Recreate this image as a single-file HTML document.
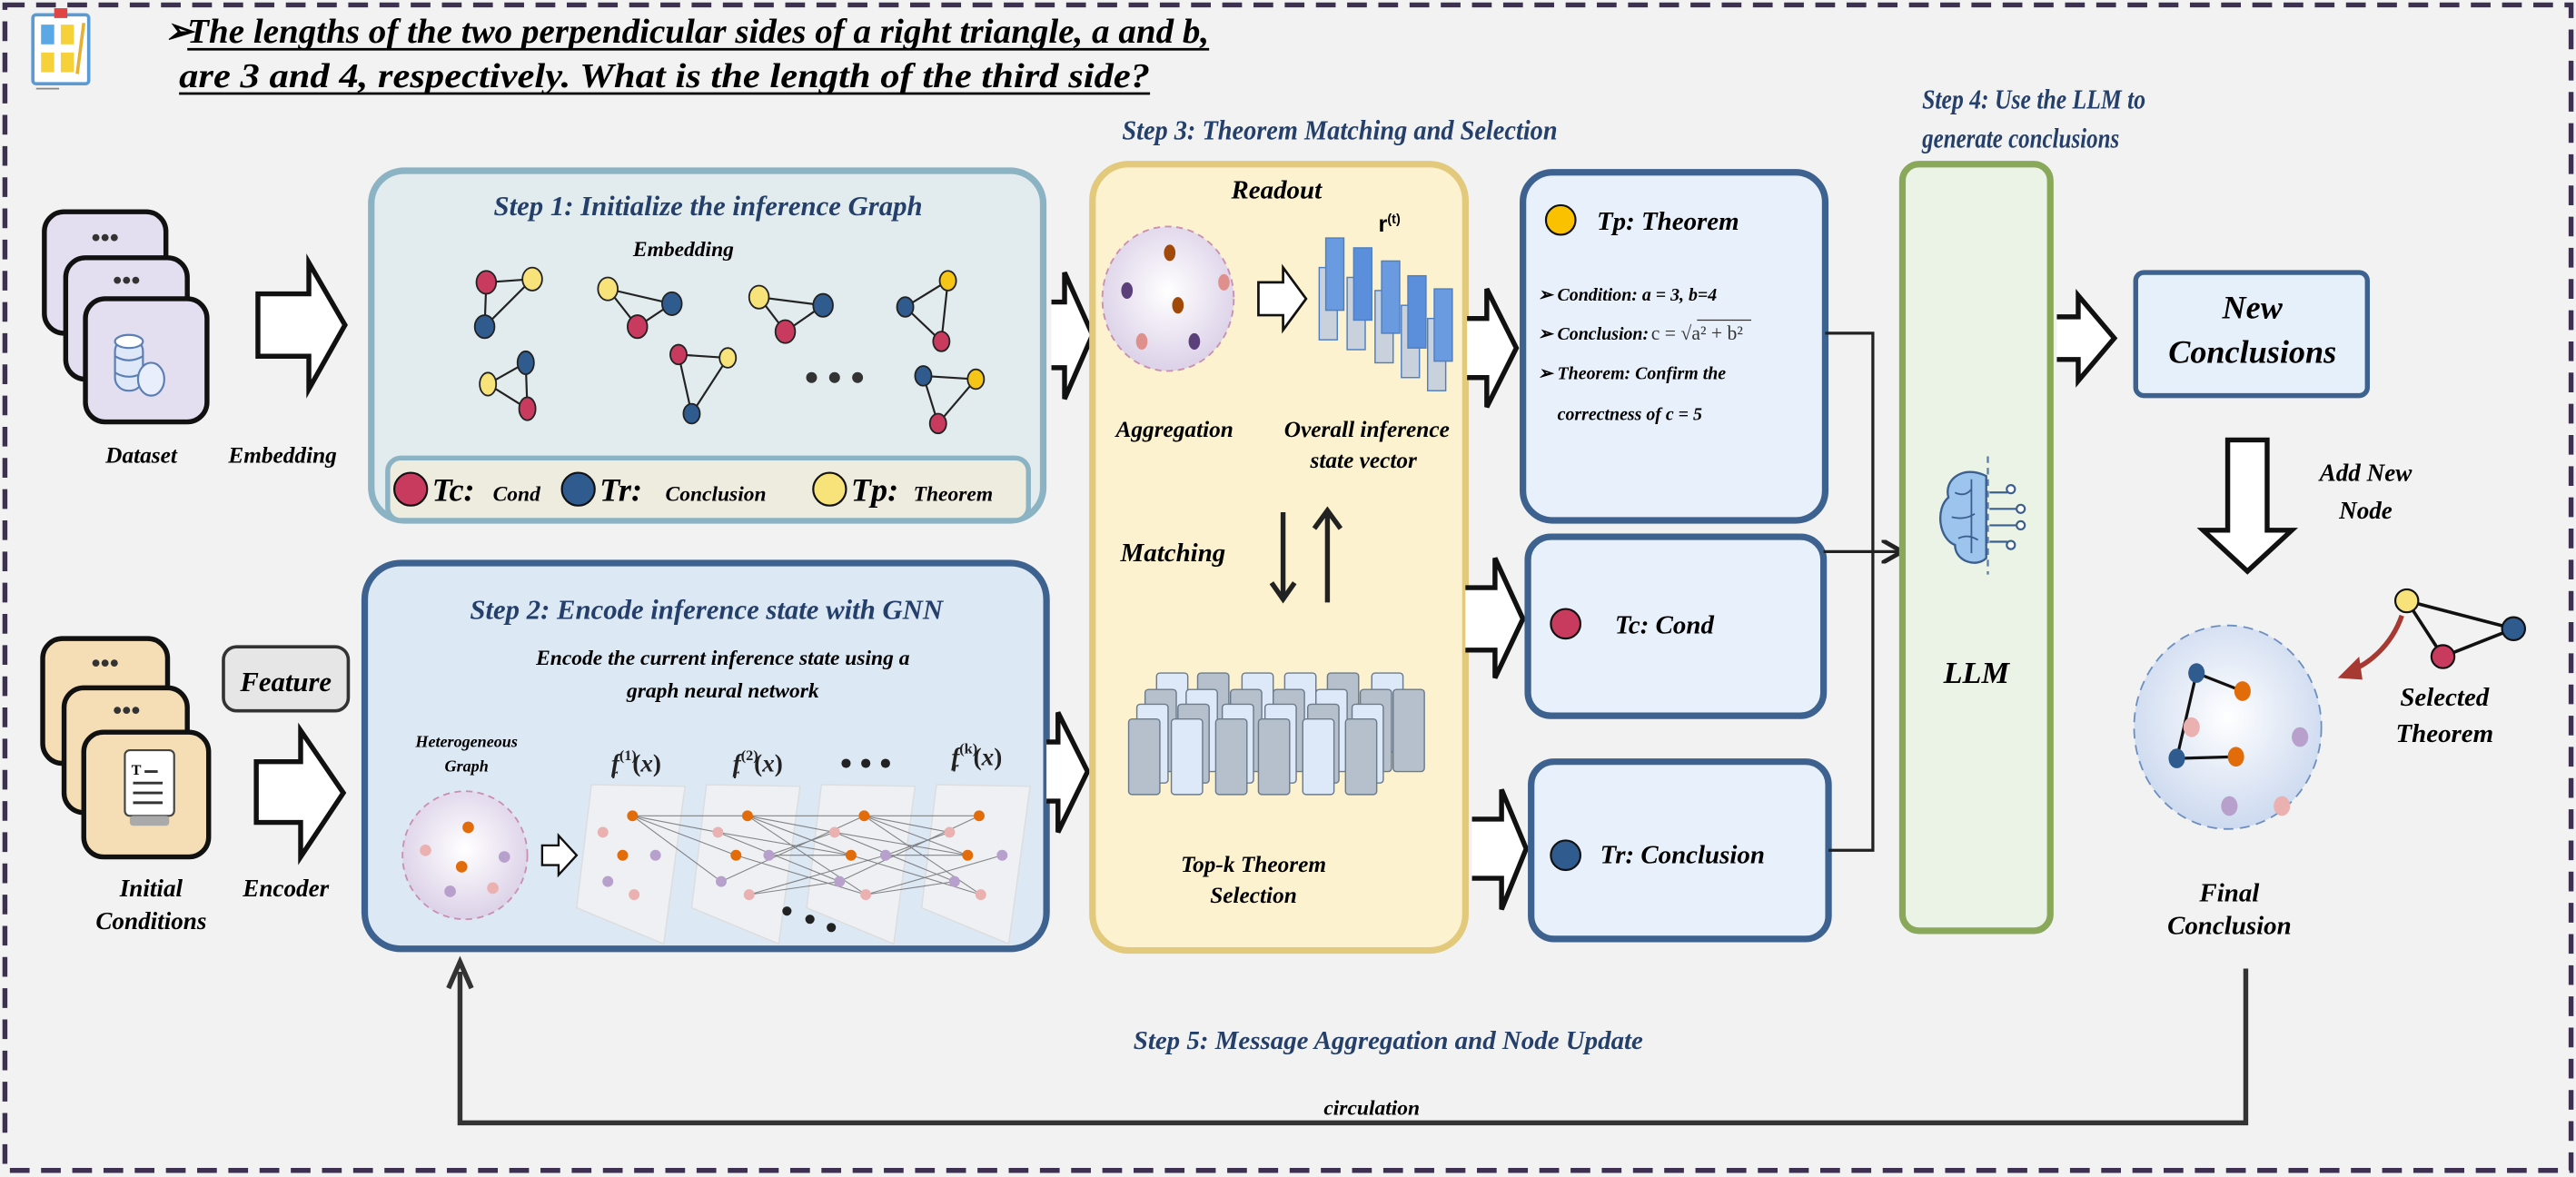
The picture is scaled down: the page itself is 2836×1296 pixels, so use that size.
<!DOCTYPE html>
<html><head><meta charset="utf-8"><style>
html,body{margin:0;padding:0;background:#f2f2f2;}
svg{display:block;}
text{font-family:"Liberation Serif",serif;font-style:italic;font-weight:bold;}
.t{fill:#243f6a;}
</style></head><body>
<svg width="2836" height="1296" viewBox="0 0 1568 717" preserveAspectRatio="none" xmlns="http://www.w3.org/2000/svg">
<defs>
<radialGradient id="sph" cx="0.5" cy="0.45" r="0.6"><stop offset="0" stop-color="#ffffff"/><stop offset="1" stop-color="#d9cde6"/></radialGradient>
<radialGradient id="sph2" cx="0.5" cy="0.45" r="0.6"><stop offset="0" stop-color="#ffffff"/><stop offset="1" stop-color="#c8d6ee"/></radialGradient>
<marker id="ah" markerWidth="8" markerHeight="8" refX="6" refY="4" orient="auto"><path d="M0,0 L7,4 L0,8" fill="none" stroke="#222" stroke-width="1.5"/></marker>
</defs>
<rect x="0" y="0" width="1568" height="717" fill="#f2f2f2"/>
<rect x="3" y="3" width="1562" height="710" fill="none" stroke="#3d3050" stroke-width="3" stroke-dasharray="12,7"/>

<!-- clipboard -->
<rect x="20" y="9" width="34" height="42" rx="2" fill="#fff" stroke="#5b9bd5" stroke-width="2"/>
<rect x="33" y="5" width="8" height="6" fill="#e04545"/>
<rect x="25" y="15" width="8" height="12" fill="#5aa9e6"/><rect x="37" y="15" width="8" height="12" fill="#f6d13a"/>
<rect x="25" y="32" width="8" height="12" fill="#f6d13a"/><rect x="37" y="32" width="8" height="12" fill="#f6d13a"/>
<line x1="51" y1="14" x2="47" y2="45" stroke="#e8b030" stroke-width="2"/>
<line x1="22" y1="54" x2="36" y2="54" stroke="#888" stroke-width="1"/>

<!-- question -->
<text x="100" y="26" font-size="21" fill="#000">➢</text>
<text x="114" y="26" font-size="21" fill="#000" textLength="622" lengthAdjust="spacingAndGlyphs">The lengths of the two perpendicular sides of a right triangle, a and b,</text>
<line x1="114" y1="30" x2="736" y2="30" stroke="#000" stroke-width="1.5"/>
<text x="109" y="53" font-size="21" fill="#000" textLength="591" lengthAdjust="spacingAndGlyphs">are 3 and 4, respectively. What is the length of the third side?</text>
<line x1="109" y1="57" x2="700" y2="57" stroke="#000" stroke-width="1.5"/>

<text class="t" x="683" y="85" font-size="17" textLength="265" lengthAdjust="spacingAndGlyphs">Step 3: Theorem Matching and Selection</text>
<text class="t" x="1170" y="66" font-size="17" textLength="136" lengthAdjust="spacingAndGlyphs">Step 4: Use the LLM to</text>
<text class="t" x="1170" y="90" font-size="17" textLength="120" lengthAdjust="spacingAndGlyphs">generate conclusions</text>

<!-- dataset -->
<rect x="27" y="129" width="74" height="74" rx="12" fill="#e4dff0" stroke="#111" stroke-width="3"/>
<text x="64" y="150" font-size="16" text-anchor="middle" fill="#333" style="font-style:normal">•••</text>
<rect x="40" y="157" width="74" height="74" rx="12" fill="#e4dff0" stroke="#111" stroke-width="3"/>
<text x="77" y="176" font-size="16" text-anchor="middle" fill="#333" style="font-style:normal">•••</text>
<rect x="52" y="182" width="74" height="75" rx="12" fill="#e4dff0" stroke="#111" stroke-width="3"/>
<g stroke="#5b7fb5" stroke-width="1.2" fill="#dfe8f8">
<rect x="70" y="206" width="17" height="32" rx="8"/>
<ellipse cx="78.5" cy="208" rx="8.5" ry="4" fill="#fff"/>
<path d="M70,217 q8.5,5 17,0 M70,227 q8.5,5 17,0" fill="none"/>
<ellipse cx="92" cy="231" rx="8" ry="10" fill="#e8eefb"/>
</g>
<text x="86" y="282" font-size="14" text-anchor="middle">Dataset</text>
<text x="172" y="282" font-size="14" text-anchor="middle">Embedding</text>
<path d="M157,179 L188,179 L188,160 L210,198 L188,237 L188,217 L157,217 Z" fill="#fff" stroke="#111" stroke-width="3"/>

<!-- step1 -->
<rect x="226" y="104" width="409" height="213" rx="20" fill="#e2ecee" stroke="#8cb3c3" stroke-width="4"/>
<text class="t" x="431" y="131" font-size="17" text-anchor="middle">Step 1: Initialize the inference Graph</text>
<text x="416" y="156" font-size="13" text-anchor="middle">Embedding</text>
<g stroke="#222" stroke-width="1.2">
<line x1="296" y1="172" x2="324" y2="170"/><line x1="296" y1="172" x2="295" y2="199"/><line x1="324" y1="170" x2="295" y2="199"/>
<line x1="370" y1="176" x2="409" y2="185"/><line x1="370" y1="176" x2="388" y2="199"/><line x1="409" y1="185" x2="388" y2="199"/>
<line x1="462" y1="181" x2="501" y2="186"/><line x1="462" y1="181" x2="478" y2="202"/><line x1="501" y1="186" x2="478" y2="202"/>
<line x1="577" y1="171" x2="551" y2="187"/><line x1="577" y1="171" x2="573" y2="208"/><line x1="551" y1="187" x2="573" y2="208"/>
<line x1="320" y1="221" x2="297" y2="234"/><line x1="320" y1="221" x2="321" y2="249"/><line x1="297" y1="234" x2="321" y2="249"/>
<line x1="413" y1="216" x2="443" y2="218"/><line x1="413" y1="216" x2="421" y2="252"/><line x1="443" y1="218" x2="421" y2="252"/>
<line x1="562" y1="229" x2="594" y2="231"/><line x1="562" y1="229" x2="571" y2="258"/><line x1="594" y1="231" x2="571" y2="258"/>
</g>
<g stroke="#222" stroke-width="1">
<ellipse cx="296" cy="172" rx="6" ry="7" fill="#c93a5f"/><ellipse cx="324" cy="170" rx="6" ry="7" fill="#f8e27a"/><ellipse cx="295" cy="199" rx="6" ry="7" fill="#2f5b8f"/>
<ellipse cx="370" cy="176" rx="6" ry="7" fill="#f8e27a"/><ellipse cx="409" cy="185" rx="6" ry="7" fill="#2f5b8f"/><ellipse cx="388" cy="199" rx="6" ry="7" fill="#c93a5f"/>
<ellipse cx="462" cy="181" rx="6" ry="7" fill="#f8e27a"/><ellipse cx="501" cy="186" rx="6" ry="7" fill="#2f5b8f"/><ellipse cx="478" cy="202" rx="6" ry="7" fill="#c93a5f"/>
<ellipse cx="577" cy="171" rx="5" ry="6" fill="#f5c518"/><ellipse cx="551" cy="187" rx="5" ry="6" fill="#2f5b8f"/><ellipse cx="573" cy="208" rx="5" ry="6" fill="#c93a5f"/>
<ellipse cx="320" cy="221" rx="5" ry="7" fill="#2f5b8f"/><ellipse cx="297" cy="234" rx="5" ry="7" fill="#f8e27a"/><ellipse cx="321" cy="249" rx="5" ry="7" fill="#c93a5f"/>
<ellipse cx="413" cy="216" rx="5" ry="6" fill="#c93a5f"/><ellipse cx="443" cy="218" rx="5" ry="6" fill="#f8e27a"/><ellipse cx="421" cy="252" rx="5" ry="6" fill="#2f5b8f"/>
<ellipse cx="562" cy="229" rx="5" ry="6" fill="#2f5b8f"/><ellipse cx="594" cy="231" rx="5" ry="6" fill="#f5c518"/><ellipse cx="571" cy="258" rx="5" ry="6" fill="#c93a5f"/>
</g>
<circle cx="494" cy="230" r="3.3" fill="#333"/><circle cx="508" cy="230" r="3.3" fill="#333"/><circle cx="522" cy="230" r="3.3" fill="#333"/>
<rect x="236" y="279" width="390" height="38" rx="8" fill="#eeebdf" stroke="#8cb3c3" stroke-width="3"/>
<g stroke="#111" stroke-width="1.2">
<circle cx="250" cy="298" r="10" fill="#c93a5f"/><circle cx="352" cy="298" r="10" fill="#2f5b8f"/><circle cx="505" cy="298" r="10" fill="#f8e27a"/>
</g>
<text x="263" y="305" font-size="20">Tc:</text><text x="300" y="305" font-size="13">Cond</text>
<text x="365" y="305" font-size="20">Tr:</text><text x="405" y="305" font-size="13">Conclusion</text>
<text x="518" y="305" font-size="20">Tp:</text><text x="556" y="305" font-size="13">Theorem</text>
<path d="M640,184 L648,184 L648,166 L665,204 L648,243 L648,224 L640,224" fill="#fff" stroke="#111" stroke-width="3"/>

<!-- initial conditions -->
<rect x="26" y="389" width="76" height="76" rx="12" fill="#f5deb5" stroke="#111" stroke-width="3"/>
<text x="64" y="409" font-size="16" text-anchor="middle" fill="#333" style="font-style:normal">•••</text>
<rect x="39" y="419" width="75" height="76" rx="12" fill="#f5deb5" stroke="#111" stroke-width="3"/>
<text x="77" y="438" font-size="16" text-anchor="middle" fill="#333" style="font-style:normal">•••</text>
<rect x="51" y="446" width="76" height="76" rx="12" fill="#f5deb5" stroke="#111" stroke-width="3"/>
<rect x="76" y="457" width="30" height="40" rx="3" fill="#fff" stroke="#444" stroke-width="1.2"/>
<rect x="79" y="497" width="24" height="6" rx="2" fill="#aaa"/>
<text x="80" y="472" font-size="9" style="font-style:normal">T</text>
<g stroke="#333" stroke-width="1.6"><line x1="88" y1="470" x2="96" y2="470"/><line x1="81" y1="477" x2="99" y2="477"/><line x1="81" y1="483" x2="99" y2="483"/><line x1="81" y1="489" x2="99" y2="489"/></g>
<text x="92" y="546" font-size="15" text-anchor="middle">Initial</text>
<text x="92" y="566" font-size="15" text-anchor="middle">Conditions</text>
<text x="174" y="546" font-size="15" text-anchor="middle">Encoder</text>
<rect x="136" y="394" width="76" height="39" rx="8" fill="#e6e6e6" stroke="#333" stroke-width="2"/>
<text x="174" y="421" font-size="17" text-anchor="middle">Feature</text>
<path d="M156,464 L183,464 L183,445 L209,483 L183,522 L183,501 L156,501 Z" fill="#fff" stroke="#111" stroke-width="3"/>

<!-- step2 -->
<rect x="222" y="343" width="415" height="235" rx="22" fill="#dde8f5" stroke="#3e6290" stroke-width="4"/>
<text class="t" x="430" y="377" font-size="17" text-anchor="middle">Step 2: Encode inference state with GNN</text>
<text x="440" y="405" font-size="13" text-anchor="middle">Encode the current inference state using a</text>
<text x="440" y="425" font-size="13" text-anchor="middle">graph neural network</text>
<text x="284" y="455" font-size="10" text-anchor="middle">Heterogeneous</text>
<text x="284" y="470" font-size="10" text-anchor="middle">Graph</text>
<ellipse cx="283" cy="521" rx="38" ry="39" fill="url(#sph)" stroke="#c98fb0" stroke-dasharray="4,3"/>
<g><circle cx="285" cy="504" r="3.5" fill="#e36c0a"/><circle cx="259" cy="518" r="3.5" fill="#eab1b0"/><circle cx="281" cy="528" r="3.5" fill="#e36c0a"/><circle cx="307" cy="522" r="3.5" fill="#b8a0cc"/><circle cx="274" cy="543" r="3.5" fill="#b8a0cc"/><circle cx="300" cy="541" r="3.5" fill="#eab1b0"/></g>
<path d="M330,515 L340,515 L340,509 L351,521 L340,533 L340,527 L330,527 Z" fill="#fff" stroke="#111" stroke-width="1.3"/>
<g fill="#f1f1f3" fill-opacity="0.85" stroke="#ddd" stroke-width="0.8">
<path d="M360,478 L417,479 L404,575 L351,553 Z"/>
<path d="M430,478 L487,479 L474,575 L421,553 Z"/>
<path d="M500,478 L557,479 L544,575 L491,553 Z"/>
<path d="M570,478 L627,479 L614,575 L561,553 Z"/>
</g>
<g stroke="#555" stroke-width="0.6" stroke-opacity="0.7">
<path d="M385,497 L455,497 M385,497 L437,507 M385,497 L448,521 M385,497 L439,537"/>
<path d="M455,497 L526,497 M455,497 L508,507 M455,497 L518,521 M437,507 L518,521 M437,507 L511,537 M468,521 L518,521 M468,521 L508,507 M439,537 L526,497 M456,545 L539,521 M456,545 L511,537 M448,521 L527,545 M455,497 L527,545"/>
<path d="M526,497 L596,497 M526,497 L578,507 M526,497 L589,521 M508,507 L589,521 M508,507 L581,537 M539,521 L589,521 M539,521 L578,507 M511,537 L596,497 M527,545 L610,521 M527,545 L581,537 M518,521 L597,545 M526,497 L597,545"/>
</g>
<g>
<circle cx="385" cy="497" r="3.3" fill="#e36c0a"/><circle cx="367" cy="507" r="3.3" fill="#eab1b0"/><circle cx="379" cy="521" r="3.3" fill="#e36c0a"/><circle cx="399" cy="521" r="3.3" fill="#b8a0cc"/><circle cx="370" cy="537" r="3.3" fill="#b8a0cc"/><circle cx="386" cy="545" r="3.3" fill="#eab1b0"/>
<circle cx="455" cy="497" r="3.3" fill="#e36c0a"/><circle cx="437" cy="507" r="3.3" fill="#eab1b0"/><circle cx="448" cy="521" r="3.3" fill="#e36c0a"/><circle cx="468" cy="521" r="3.3" fill="#b8a0cc"/><circle cx="439" cy="537" r="3.3" fill="#b8a0cc"/><circle cx="456" cy="545" r="3.3" fill="#eab1b0"/>
<circle cx="526" cy="497" r="3.3" fill="#e36c0a"/><circle cx="508" cy="507" r="3.3" fill="#eab1b0"/><circle cx="518" cy="521" r="3.3" fill="#e36c0a"/><circle cx="539" cy="521" r="3.3" fill="#b8a0cc"/><circle cx="511" cy="537" r="3.3" fill="#b8a0cc"/><circle cx="527" cy="545" r="3.3" fill="#eab1b0"/>
<circle cx="596" cy="497" r="3.3" fill="#e36c0a"/><circle cx="578" cy="507" r="3.3" fill="#eab1b0"/><circle cx="589" cy="521" r="3.3" fill="#e36c0a"/><circle cx="610" cy="521" r="3.3" fill="#b8a0cc"/><circle cx="581" cy="537" r="3.3" fill="#b8a0cc"/><circle cx="597" cy="545" r="3.3" fill="#eab1b0"/>
</g>
<circle cx="479" cy="555" r="2.8" fill="#222"/><circle cx="493" cy="560" r="2.8" fill="#222"/><circle cx="506" cy="565" r="2.8" fill="#222"/>
<g font-size="15" style="font-weight:normal" fill="#222">
<text x="372" y="470">f<tspan font-size="9" dy="-7" style="font-style:normal">(1)</tspan><tspan font-size="9" dx="-15" dy="11">r</tspan><tspan dx="9" dy="-4" style="font-style:normal">(</tspan>x<tspan style="font-style:normal">)</tspan></text>
<text x="446" y="470">f<tspan font-size="9" dy="-7" style="font-style:normal">(2)</tspan><tspan font-size="9" dx="-15" dy="11">r</tspan><tspan dx="9" dy="-4" style="font-style:normal">(</tspan>x<tspan style="font-style:normal">)</tspan></text>
<text x="579" y="466">f<tspan font-size="9" dy="-7" style="font-style:normal">(k)</tspan><tspan font-size="9" dx="-15" dy="11">r</tspan><tspan dx="9" dy="-4" style="font-style:normal">(</tspan>x<tspan style="font-style:normal">)</tspan></text>
</g>
<circle cx="515" cy="465" r="2.8" fill="#222"/><circle cx="527" cy="465" r="2.8" fill="#222"/><circle cx="539" cy="465" r="2.8" fill="#222"/>
<path d="M637,452 L644,452 L644,434 L662,470 L644,507 L644,488 L637,488" fill="#fff" stroke="#111" stroke-width="3"/>

<!-- step3 -->
<rect x="665" y="100" width="227" height="479" rx="22" fill="#fdf2cf" stroke="#e2c97c" stroke-width="4"/>
<text x="777" y="121" font-size="16" text-anchor="middle">Readout</text>
<ellipse cx="711" cy="182" rx="40" ry="44" fill="url(#sph)" stroke="#c98fb0" stroke-dasharray="4,3"/>
<g><ellipse cx="712" cy="154" rx="3.5" ry="5" fill="#a0490a"/><ellipse cx="717" cy="186" rx="3.5" ry="5" fill="#a0490a"/><ellipse cx="686" cy="177" rx="3.5" ry="5" fill="#5a3f7a"/><ellipse cx="745" cy="172" rx="3.5" ry="5" fill="#e0908c"/><ellipse cx="695" cy="208" rx="3.5" ry="5" fill="#e0908c"/><ellipse cx="727" cy="208" rx="3.5" ry="5" fill="#5a3f7a"/></g>
<path d="M766,172 L781,172 L781,163 L795,182 L781,201 L781,192 L766,192 Z" fill="#fff" stroke="#111" stroke-width="1.5"/>
<text x="839" y="141" font-size="14" style="font-style:normal;font-family:'Liberation Sans',sans-serif">r<tspan font-size="8" dy="-5">(t)</tspan></text>
<g stroke="#4f7fc0" stroke-width="0.8">
<rect x="803" y="163" width="11" height="44" fill="#c9d2dc"/><rect x="807" y="145" width="11" height="44" fill="#6a9be0"/>
<rect x="820" y="169" width="11" height="44" fill="#c9d2dc"/><rect x="824" y="151" width="11" height="44" fill="#5b8fdc"/>
<rect x="837" y="177" width="11" height="44" fill="#c9d2dc"/><rect x="841" y="159" width="11" height="44" fill="#6a9be0"/>
<rect x="853" y="186" width="11" height="44" fill="#c9d2dc"/><rect x="857" y="168" width="11" height="44" fill="#5b8fdc"/>
<rect x="869" y="194" width="11" height="44" fill="#c9d2dc"/><rect x="873" y="176" width="11" height="44" fill="#6a9be0"/>
</g>
<text x="715" y="266" font-size="14" text-anchor="middle">Aggregation</text>
<text x="832" y="266" font-size="14" text-anchor="middle">Overall inference</text>
<text x="830" y="285" font-size="14" text-anchor="middle">state vector</text>
<text x="714" y="342" font-size="16" text-anchor="middle">Matching</text>
<g stroke="#222" stroke-width="3" fill="none"><line x1="781" y1="312" x2="781" y2="364"/><path d="M774,355 L781,365 L788,355"/><line x1="808" y1="312" x2="808" y2="367"/><path d="M800,322 L808,311 L816,322"/></g>
<g stroke="#6b7b8c" stroke-width="0.8">
<rect x="704" y="410" width="19" height="48" rx="2" fill="#dde9f8"/><rect x="729" y="410" width="19" height="48" rx="2" fill="#b5c0cc"/><rect x="756" y="410" width="19" height="48" rx="2" fill="#dde9f8"/><rect x="782" y="410" width="19" height="48" rx="2" fill="#dde9f8"/><rect x="808" y="410" width="19" height="48" rx="2" fill="#b5c0cc"/><rect x="835" y="410" width="19" height="48" rx="2" fill="#dde9f8"/>
<rect x="697" y="420" width="19" height="50" rx="2" fill="#b5c0cc"/><rect x="722" y="420" width="19" height="50" rx="2" fill="#dde9f8"/><rect x="749" y="420" width="19" height="50" rx="2" fill="#b5c0cc"/><rect x="775" y="420" width="19" height="50" rx="2" fill="#b5c0cc"/><rect x="801" y="420" width="19" height="50" rx="2" fill="#dde9f8"/><rect x="828" y="420" width="19" height="50" rx="2" fill="#b5c0cc"/><rect x="848" y="420" width="19" height="50" rx="2" fill="#b5c0cc"/>
<rect x="692" y="429" width="19" height="48" rx="2" fill="#dde9f8"/><rect x="717" y="429" width="19" height="48" rx="2" fill="#b5c0cc"/><rect x="744" y="429" width="19" height="48" rx="2" fill="#dde9f8"/><rect x="770" y="429" width="19" height="48" rx="2" fill="#dde9f8"/><rect x="796" y="429" width="19" height="48" rx="2" fill="#b5c0cc"/><rect x="823" y="429" width="19" height="48" rx="2" fill="#dde9f8"/>
<rect x="687" y="438" width="19" height="46" rx="2" fill="#b5c0cc"/><rect x="713" y="438" width="19" height="46" rx="2" fill="#dde9f8"/><rect x="740" y="438" width="19" height="46" rx="2" fill="#b5c0cc"/><rect x="766" y="438" width="19" height="46" rx="2" fill="#b5c0cc"/><rect x="793" y="438" width="19" height="46" rx="2" fill="#dde9f8"/><rect x="819" y="438" width="19" height="46" rx="2" fill="#b5c0cc"/>
</g>
<text x="763" y="531" font-size="14" text-anchor="middle">Top-k Theorem</text>
<text x="763" y="550" font-size="14" text-anchor="middle">Selection</text>

<path d="M893,194 L905,194 L905,176 L923,212 L905,248 L905,230 L893,230" fill="#fff" stroke="#111" stroke-width="3"/>
<path d="M892,358 L910,358 L910,340 L927,377 L910,413 L910,396 L892,396" fill="#fff" stroke="#111" stroke-width="3"/>
<path d="M896,499 L914,499 L914,481 L929,517 L914,554 L914,535 L896,535" fill="#fff" stroke="#111" stroke-width="3"/>

<!-- right boxes -->
<rect x="927" y="105" width="184" height="212" rx="18" fill="#e8f1fb" stroke="#3e6290" stroke-width="4"/>
<circle cx="950" cy="134" r="9" fill="#f9c100" stroke="#111" stroke-width="1.2"/>
<text x="972" y="140" font-size="16">Tp: Theorem</text>
<g font-size="11">
<text x="936" y="183">➢ Condition: a = 3,  b=4</text>
<text x="936" y="207">➢ Conclusion:</text>
<text x="1005" y="207" font-size="12" style="font-style:normal;font-weight:normal;font-family:'Liberation Serif',serif" fill="#333">c = √a² + b²</text>
<line x1="1033" y1="195" x2="1066" y2="195" stroke="#333" stroke-width="0.7"/>
<text x="936" y="231">➢ Theorem: Confirm the</text>
<text x="948" y="256">correctness of c = 5</text>
</g>
<rect x="930" y="327" width="180" height="109" rx="14" fill="#e8f1fb" stroke="#3e6290" stroke-width="4"/>
<circle cx="953" cy="380" r="9" fill="#c93a5f" stroke="#111" stroke-width="1.2"/>
<text x="983" y="386" font-size="16">Tc: Cond</text>
<rect x="932" y="464" width="181" height="108" rx="14" fill="#e8f1fb" stroke="#3e6290" stroke-width="4"/>
<circle cx="953" cy="521" r="9" fill="#2f5b8f" stroke="#111" stroke-width="1.2"/>
<text x="974" y="526" font-size="16">Tr: Conclusion</text>
<g stroke="#222" stroke-width="1.8" fill="none">
<path d="M1111,203 L1140,203 L1140,518 L1113,518"/>
<line x1="1110" y1="336" x2="1156" y2="336" marker-end="url(#ah)"/>
</g>

<!-- LLM -->
<rect x="1158" y="100" width="90" height="467" rx="10" fill="#ebf3e6" stroke="#8aa85a" stroke-width="4"/>
<line x1="1210" y1="278" x2="1210" y2="350" stroke="#5a7fb0" stroke-width="1.3" stroke-dasharray="4,3"/>
<path d="M1209,290 C1195,283 1183,292 1186,303 C1178,310 1180,328 1190,332 C1190,342 1203,346 1209,340 Z" fill="#9cc4ec" stroke="#3b5f8f" stroke-width="1.3"/>
<g stroke="#3b5f8f" stroke-width="1" fill="none"><path d="M1190,300 q6,3 10,-2 M1188,315 q8,2 14,-2 M1192,328 q6,-3 12,1 M1200,292 l0,45"/></g>
<g stroke="#3b5f8f" stroke-width="1.2" fill="#fff"><path d="M1211,300 L1222,300 M1211,310 L1228,310 M1211,320 L1228,320 M1211,330 L1222,330" fill="none"/><circle cx="1224" cy="298" r="2.5"/><circle cx="1230" cy="310" r="2.5"/><circle cx="1230" cy="320" r="2.5"/><circle cx="1224" cy="332" r="2.5"/></g>
<text x="1203" y="416" font-size="19" text-anchor="middle">LLM</text>
<path d="M1252,193 L1265,193 L1265,180 L1287,206 L1265,232 L1265,219 L1252,219" fill="#fff" stroke="#111" stroke-width="3"/>
<rect x="1300" y="166" width="141" height="75" rx="5" fill="#e6f0fa" stroke="#3e6290" stroke-width="3"/>
<text x="1371" y="194" font-size="20" text-anchor="middle">New</text>
<text x="1371" y="221" font-size="20" text-anchor="middle">Conclusions</text>
<path d="M1356,268 L1380,268 L1380,323 L1395,323 L1368,348 L1341,323 L1356,323 Z" fill="#fff" stroke="#111" stroke-width="3"/>
<text x="1440" y="293" font-size="15" text-anchor="middle">Add New</text>
<text x="1440" y="316" font-size="15" text-anchor="middle">Node</text>

<ellipse cx="1356" cy="443" rx="57" ry="62" fill="url(#sph2)" stroke="#6d8fc0" stroke-dasharray="6,4"/>
<g stroke="#111" stroke-width="1.8"><line x1="1337" y1="410" x2="1365" y2="421"/><line x1="1337" y1="410" x2="1325" y2="462"/><line x1="1325" y1="462" x2="1361" y2="461"/></g>
<g><ellipse cx="1337" cy="410" rx="5" ry="6" fill="#2f5b8f"/><ellipse cx="1365" cy="421" rx="5" ry="6" fill="#e36c0a"/><ellipse cx="1334" cy="443" rx="5" ry="6" fill="#eab1b0"/><ellipse cx="1325" cy="462" rx="5" ry="6" fill="#2f5b8f"/><ellipse cx="1361" cy="461" rx="5" ry="6" fill="#e36c0a"/><ellipse cx="1400" cy="449" rx="5" ry="6" fill="#b8a0cc"/><ellipse cx="1357" cy="491" rx="5" ry="6" fill="#b8a0cc"/><ellipse cx="1389" cy="491" rx="5" ry="6" fill="#eab1b0"/></g>
<text x="1357" y="549" font-size="16" text-anchor="middle">Final</text>
<text x="1357" y="569" font-size="16" text-anchor="middle">Conclusion</text>
<g stroke="#111" stroke-width="2"><line x1="1465" y1="366" x2="1530" y2="383"/><line x1="1465" y1="366" x2="1487" y2="400"/><line x1="1530" y1="383" x2="1487" y2="400"/></g>
<circle cx="1465" cy="366" r="7" fill="#f8e27a" stroke="#111" stroke-width="1.2"/><circle cx="1530" cy="383" r="7" fill="#2f5b8f" stroke="#111" stroke-width="1.2"/><circle cx="1487" cy="400" r="7" fill="#c93a5f" stroke="#111" stroke-width="1.2"/>
<path d="M1462,375 C1455,395 1440,405 1432,408" fill="none" stroke="#a63a32" stroke-width="3"/>
<path d="M1423,413 L1436,400 L1438,414 Z" fill="#a63a32"/>
<text x="1488" y="430" font-size="16" text-anchor="middle">Selected</text>
<text x="1488" y="452" font-size="16" text-anchor="middle">Theorem</text>

<!-- loop -->
<path d="M1367,590 L1367,684 L280,684 L280,592" fill="none" stroke="#333" stroke-width="3"/>
<path d="M273,602 L280,586 L287,602" fill="none" stroke="#333" stroke-width="3"/>
<text class="t" x="845" y="639" font-size="16" text-anchor="middle">Step 5: Message Aggregation and Node Update</text>
<text x="835" y="679" font-size="13" text-anchor="middle">circulation</text>
</svg>
</body></html>
